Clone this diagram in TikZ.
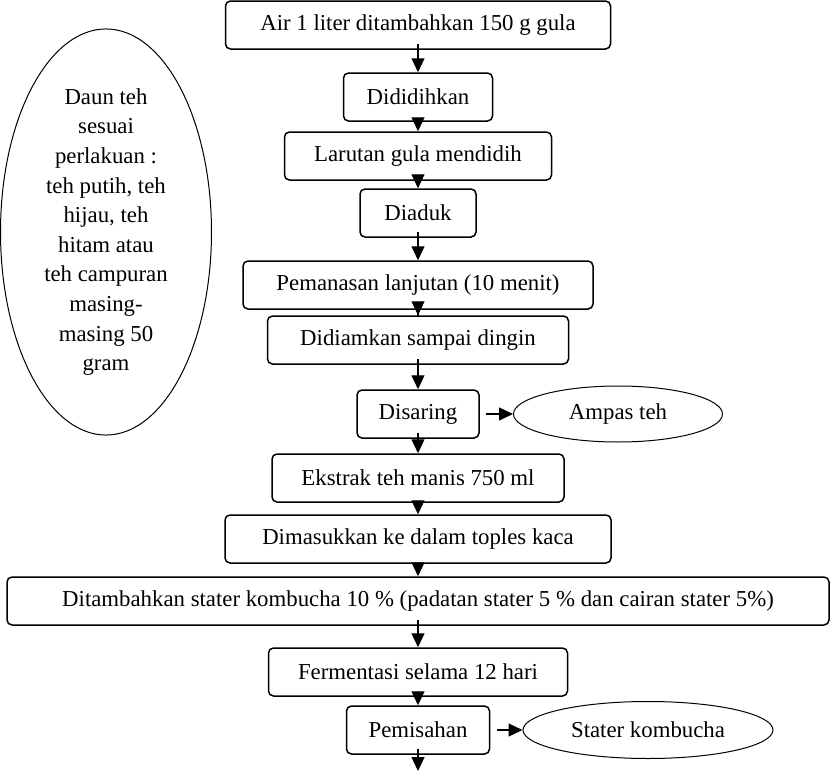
\documentclass[tikz,border=0pt]{standalone}
\usepackage{fontspec}
\setmainfont{Liberation Serif}
\usetikzlibrary{arrows.meta}
\usetikzlibrary{shapes.geometric}

\tikzset{
  proses/.style={draw, line width=0.75pt, rounded corners=2.5pt, inner sep=0pt, minimum height=24pt},
  hasil/.style={draw, ellipse, line width=0.5pt, inner sep=0pt},
  alur/.style={-{Triangle[width=6.5pt,length=7pt]}, line width=0.6pt},
}

\begin{document}
\begin{tikzpicture}[x=0.5pt, y=-0.5pt, font=\fontsize{11.4}{14.8}\selectfont]
      \useasboundingbox (0,0) rectangle (831,771);

      \node[proses, minimum width=192.5pt] (air) at (418,25) {Air 1 liter ditambahkan 150 g gula};
      \node[proses, minimum width=74.5pt] (didih) at (418,97) {Dididihkan};
      \node[proses, minimum width=133.5pt] (larutan) at (418,156) {Larutan gula mendidih};
      \node[proses, minimum width=58pt] (aduk) at (418,213) {Diaduk};
      \node[proses, minimum width=175pt] (panas) at (418,285) {Pemanasan lanjutan (10 menit)};
      \node[proses, minimum width=150.5pt] (diam) at (418,340) {Didiamkan sampai dingin};
      \node[proses, minimum width=61pt] (saring) at (418,414) {Disaring};
      \node[proses, minimum width=146pt] (ekstrak) at (418,478) {Ekstrak teh manis 750 ml};
      \node[proses, minimum width=193pt] (toples) at (418,539) {Dimasukkan ke dalam toples kaca};
      \node[proses, minimum width=411pt] (stater) at (418,601) {Ditambahkan stater kombucha 10 \% (padatan stater 5 \% dan cairan stater 5\%)};
      \node[proses, minimum width=149.5pt] (fermen) at (418,672) {Fermentasi selama 12 hari};
      \node[proses, minimum width=71.5pt] (pisah) at (418,730) {Pemisahan};
      \coordinate (akhir) at (418,771);

      \node[hasil, minimum width=104.5pt, minimum height=28pt] (ampas) at (618,414) {Ampas teh};
      \node[hasil, minimum width=125pt, minimum height=28.5pt] (kombucha) at (648,730) {Stater kombucha};
      \node[hasil, minimum width=105.5pt, minimum height=179.5pt, align=center] (daun) at (106,232)
        {Daun teh\\sesuai\\perlakuan :\\teh putih, teh\\hijau, teh\\hitam atau\\teh campuran\\masing-\\masing 50\\gram};

      \draw[alur, shorten <=-3pt] (air.south) -- (didih.north);
      \draw[alur, shorten <=-3pt] (didih.south) -- (larutan.north);
      \draw[alur, shorten <=-3pt] (larutan.south) -- (aduk.north);
      \draw[alur, shorten <=-3pt] (aduk.south) -- (panas.north);
      \draw[alur, shorten <=-3pt] (panas.south) -- (diam.north);
      \draw[alur, shorten <=-3pt] (diam.south) -- (saring.north);
      \draw[alur, shorten <=-3pt] (saring.south) -- (ekstrak.north);
      \draw[alur, shorten <=-3pt] (ekstrak.south) -- (toples.north);
      \draw[alur, shorten <=-3pt] (toples.south) -- (stater.north);
      \draw[alur, shorten <=-3pt] (stater.south) -- (fermen.north);
      \draw[alur, shorten <=-3pt] (fermen.south) -- (pisah.north);
      \draw[alur, shorten <=-3pt] (pisah.south) -- (akhir);

      \draw[alur, shorten <=3pt] (saring.east) -- (ampas.west);
      \draw[alur, shorten <=3.5pt] (pisah.east) -- (kombucha.west);
\end{tikzpicture}
\end{document}
